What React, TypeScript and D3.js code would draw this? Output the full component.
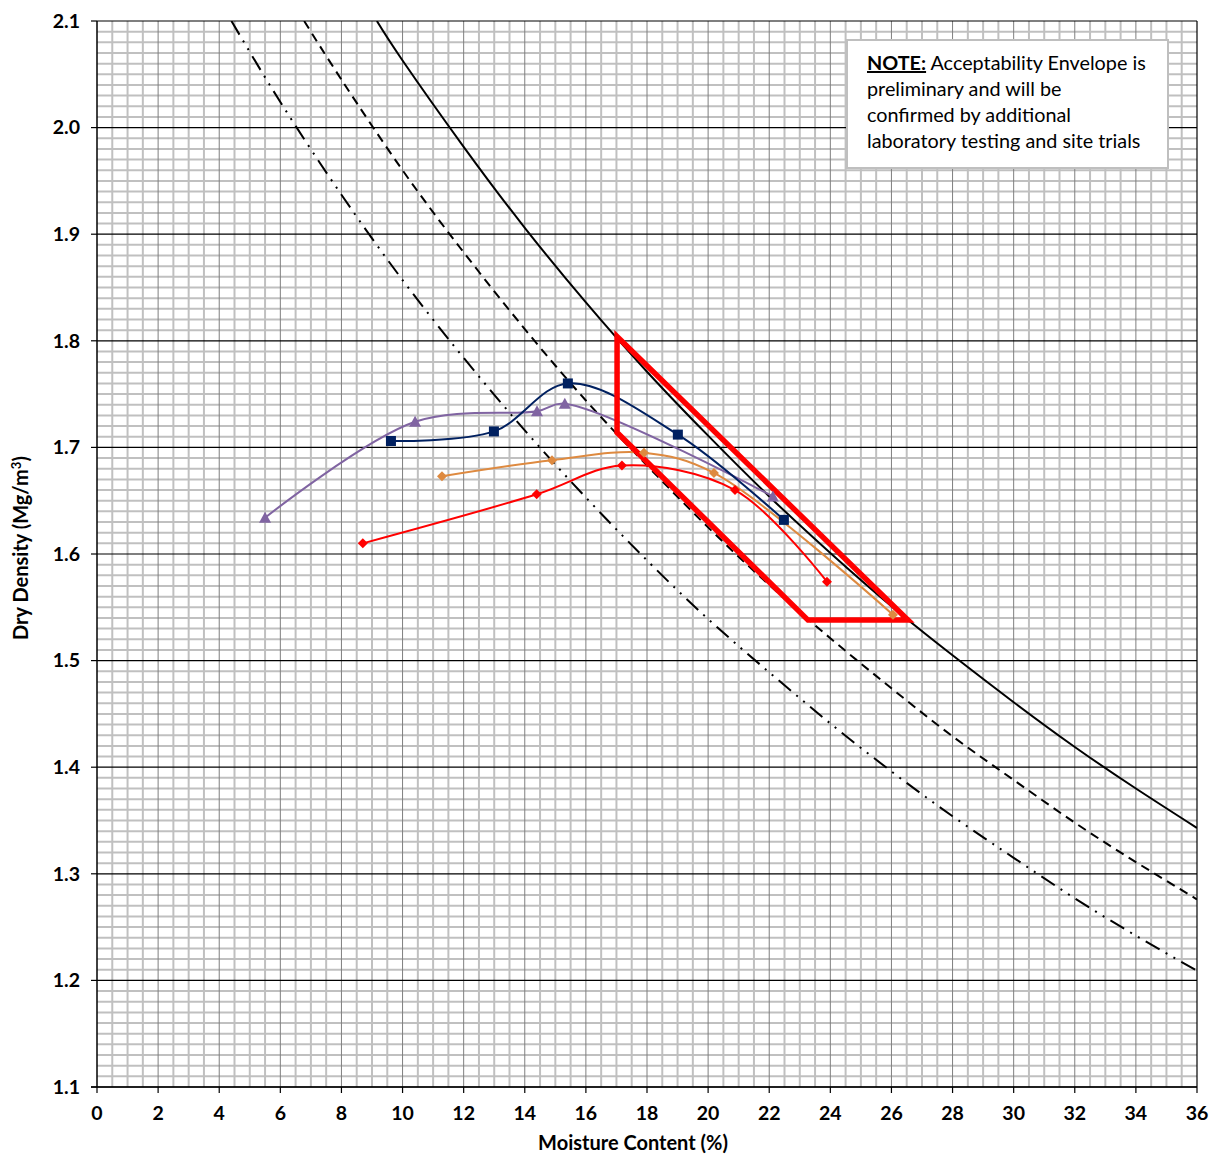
import React from "react";
import * as d3 from "d3";

// compaction test results (moisture %, dry density Mg/m3)
const navySquares: [number, number][] = [
  [9.62, 1.706], [12.99, 1.715], [15.41, 1.76], [19.01, 1.712], [22.48, 1.632],
];
const purpleTriangles: [number, number][] = [
  [5.5, 1.634], [10.41, 1.724], [14.4, 1.734], [15.31, 1.741], [22.12, 1.654],
];
const orangeDiamonds: [number, number][] = [
  [11.29, 1.673], [14.89, 1.688], [17.9, 1.695], [20.19, 1.676], [26.05, 1.543],
];
const redDiamonds: [number, number][] = [
  [8.7, 1.61], [14.39, 1.656], [17.18, 1.683], [20.88, 1.66], [23.89, 1.574],
];

// air voids lines
const voids0: [number, number][] = [
  [9.16, 2.1], [10, 2.063], [12, 1.982], [14, 1.906], [16, 1.836], [18, 1.771], [20, 1.711],
  [22, 1.654], [24, 1.601], [26, 1.551], [28, 1.505], [30, 1.461], [32, 1.419], [34, 1.38], [36, 1.343],
];
const voids5: [number, number][] = [
  [6.78, 2.1], [8, 2.045], [10, 1.96], [12, 1.883], [14, 1.811], [16, 1.744], [18, 1.683], [20, 1.625],
  [22, 1.571], [24, 1.521], [26, 1.474], [28, 1.429], [30, 1.388], [32, 1.348], [34, 1.311], [36, 1.276],
];
const voids10: [number, number][] = [
  [4.4, 2.1], [6, 2.024], [8, 1.937], [10, 1.857], [12, 1.784], [14, 1.716], [16, 1.653], [18, 1.594],
  [20, 1.539], [22, 1.489], [24, 1.441], [26, 1.396], [28, 1.354], [30, 1.315], [32, 1.277], [34, 1.242], [36, 1.209],
];

// acceptability envelope
const envelope: [number, number][] = [
  [17.02, 1.804], [17.02, 1.714], [23.27, 1.538], [26.54, 1.538],
];

const xTicks = d3.range(0, 37, 2);
const yTicks = [1.1, 1.2, 1.3, 1.4, 1.5, 1.6, 1.7, 1.8, 1.9, 2.0, 2.1];

const noteLines = [
  "Acceptability Envelope is",
  "preliminary and will be",
  "confirmed by additional",
  "laboratory testing and site trials",
];

const W = 1209;
const H = 1155;
const left = 97;
const right = 1197;
const top = 21;
const bottom = 1087;
const font = "Lato, 'Open Sans', sans-serif";

export default function App() {
  const x = d3.scaleLinear().domain([0, 36]).range([left, right]);
  const y = d3.scaleLinear().domain([1.1, 2.1]).range([bottom, top]);

  const smooth = d3.line<[number, number]>().x(d => x(d[0])).y(d => y(d[1])).curve(d3.curveCatmullRom.alpha(0.5));
  const curve = d3.line<[number, number]>().x(d => x(d[0])).y(d => y(d[1])).curve(d3.curveNatural);
  const straight = d3.line<[number, number]>().x(d => x(d[0])).y(d => y(d[1]));

  const minorX = d3.range(0.5, 36, 0.5).filter(v => v % 2 !== 0);
  const majorX = d3.range(2, 36, 2);
  const minorY = d3.range(1, 100).map(i => 1.1 + i * 0.01).filter((_, i) => (i + 1) % 10 !== 0);

  const sq = (p: [number, number], i: number) => (
    <rect key={i} x={x(p[0]) - 5} y={y(p[1]) - 5} width={10} height={10} fill="#002060" />
  );
  const tri = (p: [number, number], i: number) => {
    const cx = x(p[0]);
    const cy = y(p[1]);
    return <path key={i} d={`M${cx},${cy - 6}L${cx + 6},${cy + 5}L${cx - 6},${cy + 5}Z`} fill="#8064A2" />;
  };
  const dia = (color: string, r: number) => (p: [number, number], i: number) => {
    const cx = x(p[0]);
    const cy = y(p[1]);
    return <path key={i} d={`M${cx},${cy - r}L${cx + r},${cy}L${cx},${cy + r}L${cx - r},${cy}Z`} fill={color} />;
  };

  return (
    <svg width={W} height={H} style={{ position: "absolute", left: 0, top: 0, background: "#fff" }}>
      <defs>
        <clipPath id="plot">
          <rect x={left} y={top} width={right - left} height={bottom - top} />
        </clipPath>
      </defs>
      <rect x={0} y={0} width={W} height={H} fill="#fff" />

      {/* grid */}
      <g>
        {minorX.map(v => (
          <line key={"mx" + v} x1={x(v)} x2={x(v)} y1={top} y2={bottom} stroke="#c0c0c0" strokeWidth={2} />
        ))}
        {minorY.map((v, i) => (
          <line key={"my" + i} x1={left} x2={right} y1={y(v)} y2={y(v)} stroke="#c0c0c0" strokeWidth={2} />
        ))}
        {majorX.map(v => (
          <line key={"Mx" + v} x1={x(v)} x2={x(v)} y1={top} y2={bottom} stroke="#7f7f7f" strokeWidth={1} />
        ))}
        {yTicks.map(v => (
          <line key={"My" + v} x1={left} x2={right} y1={y(v)} y2={y(v)} stroke="#000" strokeWidth={1.2} />
        ))}
        <line x1={right} x2={right} y1={top} y2={bottom} stroke="#000" strokeWidth={1.2} />
      </g>

      <g clipPath="url(#plot)" fill="none">
        <path d={curve(voids0) || ""} stroke="#000" strokeWidth={2} />
        <path d={curve(voids5) || ""} stroke="#000" strokeWidth={2} strokeDasharray="9 6" />
        <path d={curve(voids10) || ""} stroke="#000" strokeWidth={2} strokeDasharray="16 7 2 7 2 7" />

        <path d={smooth(purpleTriangles) || ""} stroke="#8064A2" strokeWidth={2} />
        <path d={smooth(navySquares) || ""} stroke="#002060" strokeWidth={2} />
        <path d={smooth(orangeDiamonds) || ""} stroke="#DE8A40" strokeWidth={2} />
        <path d={smooth(redDiamonds) || ""} stroke="#FF0000" strokeWidth={2} />

        <path d={(straight(envelope) || "") + "Z"} stroke="#FF0000" strokeWidth={5.5} strokeLinejoin="miter" />
      </g>

      <g>
        {purpleTriangles.map(tri)}
        {navySquares.map(sq)}
        {orangeDiamonds.map(dia("#DE8A40", 5))}
        {redDiamonds.map(dia("#FF0000", 5))}
      </g>

      {/* axes */}
      <line x1={left} x2={left} y1={top} y2={bottom} stroke="#000" strokeWidth={1.5} />
      <line x1={left - 6} x2={right} y1={bottom} y2={bottom} stroke="#000" strokeWidth={1.5} />
      {yTicks.map(v => (
        <g key={"yt" + v}>
          <line x1={left - 6} x2={left} y1={y(v)} y2={y(v)} stroke="#000" strokeWidth={1.2} />
          <text x={80} y={y(v)} dy="0.35em" textAnchor="end" fontFamily={font} fontWeight="bold" fontSize={19.5}>
            {v.toFixed(1)}
          </text>
        </g>
      ))}
      {xTicks.map(v => (
        <g key={"xt" + v}>
          <line x1={x(v)} x2={x(v)} y1={bottom} y2={bottom + 6} stroke="#000" strokeWidth={1.2} />
          <text x={x(v)} y={1120} textAnchor="middle" fontFamily={font} fontWeight="bold" fontSize={19.5}>
            {v}
          </text>
        </g>
      ))}
      <text x={633} y={1150} textAnchor="middle" fontFamily={font} fontWeight="bold" fontSize={20}>
        Moisture Content (%)
      </text>
      <text
        transform={`translate(28,548) rotate(-90)`}
        textAnchor="middle"
        fontFamily={font}
        fontWeight="bold"
        fontSize={20}
      >
        Dry Density (Mg/m<tspan dy={-7} fontSize={13}>3</tspan><tspan dy={7}>)</tspan>
      </text>

      {/* note box */}
      <rect x={847} y={40} width={321} height={128} fill="#fff" stroke="#bfbfbf" strokeWidth={2} />
      <g fontFamily={font} fontSize={19.8} fill="#000">
        {noteLines.map((t, i) => (
          <text key={i} x={867} y={70 + i * 26}>
            {i === 0 ? (
              <>
                <tspan fontWeight="bold" textDecoration="underline">NOTE:</tspan> {t}
              </>
            ) : (
              t
            )}
          </text>
        ))}
      </g>
    </svg>
  );
}
